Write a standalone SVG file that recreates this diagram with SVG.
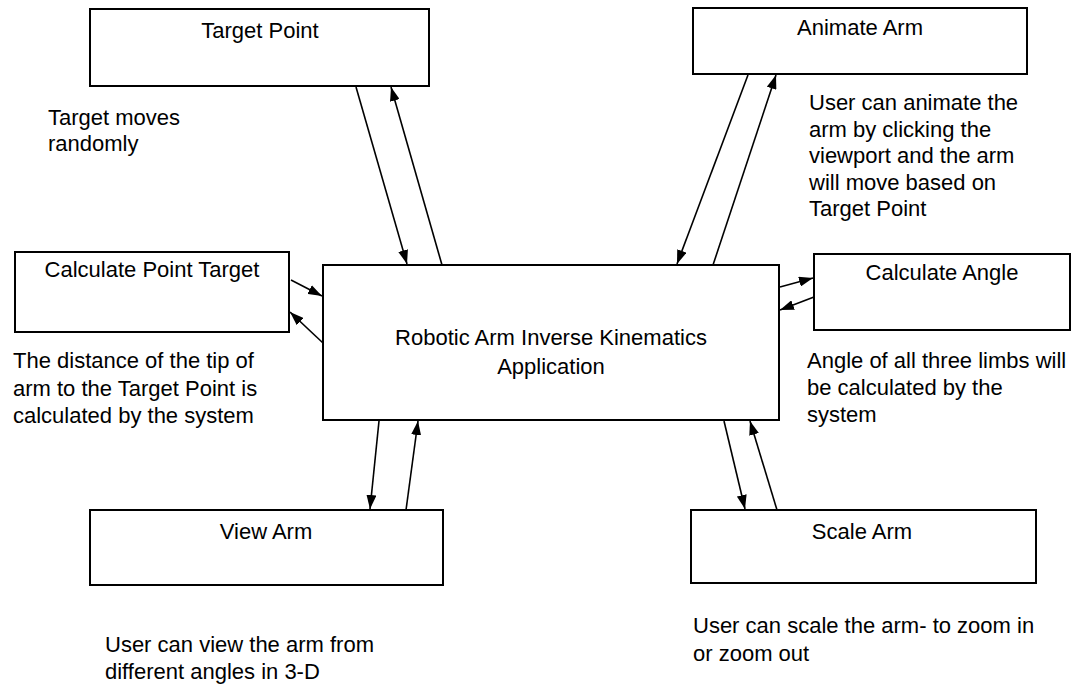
<svg xmlns="http://www.w3.org/2000/svg" width="1076" height="685" viewBox="0 0 1076 685">
<style>
  .box { fill: #fff; stroke: #000; stroke-width: 2; }
  .lbl { font-family: "Liberation Sans", Arial, sans-serif; font-size: 22px; fill: #000; text-anchor: middle; }
  .note { font-family: "Liberation Sans", Arial, sans-serif; font-size: 22px; fill: #000; }
  .conn { stroke: #000; stroke-width: 1.6; fill: none; marker-end: url(#ah); }
</style>
<defs>
  <marker id="ah" viewBox="0 0 14 10" markerWidth="14" markerHeight="10" markerUnits="userSpaceOnUse" refX="14" refY="5" orient="auto">
    <path d="M0,0 L14,5 L0,10 z" fill="#000"/>
  </marker>
</defs>
<rect width="1076" height="685" fill="#fff"/>

<g id="target-point">
  <rect class="box" x="90" y="9" width="339" height="77"/>
  <text class="lbl" x="260" y="38">Target Point</text>
</g>
<g id="target-point-note">
  <text class="note" x="48" y="125">Target moves</text>
  <text class="note" x="48" y="151">randomly</text>
</g>

<g id="calc-point-target">
  <rect class="box" x="15" y="252" width="274" height="80"/>
  <text class="lbl" x="152" y="277">Calculate Point Target</text>
</g>
<g id="calc-point-target-note">
  <text class="note" x="13" y="368">The distance of the tip of</text>
  <text class="note" x="13" y="396">arm to the Target Point is</text>
  <text class="note" x="13" y="423">calculated by the system</text>
</g>

<g id="robotic-arm-app">
  <rect class="box" x="323" y="265" width="456" height="155"/>
  <text class="lbl" x="551" y="345">Robotic Arm Inverse Kinematics</text>
  <text class="lbl" x="551" y="374">Application</text>
</g>

<g id="animate-arm">
  <rect class="box" x="693" y="8" width="334" height="66"/>
  <text class="lbl" x="860" y="35">Animate Arm</text>
</g>
<g id="animate-arm-note">
  <text class="note" x="809" y="110">User can animate the</text>
  <text class="note" x="809" y="137">arm by clicking the</text>
  <text class="note" x="809" y="163">viewport and the arm</text>
  <text class="note" x="809" y="190">will move based on</text>
  <text class="note" x="809" y="216">Target Point</text>
</g>

<g id="calc-angle">
  <rect class="box" x="814" y="254" width="256" height="76"/>
  <text class="lbl" x="942" y="280">Calculate Angle</text>
</g>
<g id="calc-angle-note">
  <text class="note" x="807" y="368">Angle of all three limbs will</text>
  <text class="note" x="807" y="395">be calculated by the</text>
  <text class="note" x="807" y="422">system</text>
</g>

<g id="view-arm">
  <rect class="box" x="90" y="510" width="353" height="75"/>
  <text class="lbl" x="266" y="539">View Arm</text>
</g>
<g id="view-arm-note">
  <text class="note" x="105" y="652">User can view the arm from</text>
  <text class="note" x="105" y="679">different angles in 3-D</text>
</g>

<g id="scale-arm">
  <rect class="box" x="691" y="510" width="345" height="73"/>
  <text class="lbl" x="862" y="539">Scale Arm</text>
</g>
<g id="scale-arm-note">
  <text class="note" x="693" y="633">User can scale the arm- to zoom in</text>
  <text class="note" x="693" y="661">or zoom out</text>
</g>

<g id="connectors">
  <line class="conn" x1="356" y1="87" x2="407" y2="264"/>
  <line class="conn" x1="442" y1="265" x2="391" y2="87"/>
  <line class="conn" x1="291" y1="280" x2="322" y2="296"/>
  <line class="conn" x1="323" y1="343" x2="290" y2="312"/>
  <line class="conn" x1="748" y1="75" x2="677" y2="264"/>
  <line class="conn" x1="713" y1="265" x2="776" y2="75"/>
  <line class="conn" x1="780" y1="287" x2="813" y2="278"/>
  <line class="conn" x1="814" y1="297" x2="780" y2="310"/>
  <line class="conn" x1="379" y1="421" x2="370" y2="509"/>
  <line class="conn" x1="406" y1="510" x2="418" y2="421"/>
  <line class="conn" x1="724" y1="421" x2="745" y2="509"/>
  <line class="conn" x1="777" y1="510" x2="750" y2="421"/>
</g>
</svg>
